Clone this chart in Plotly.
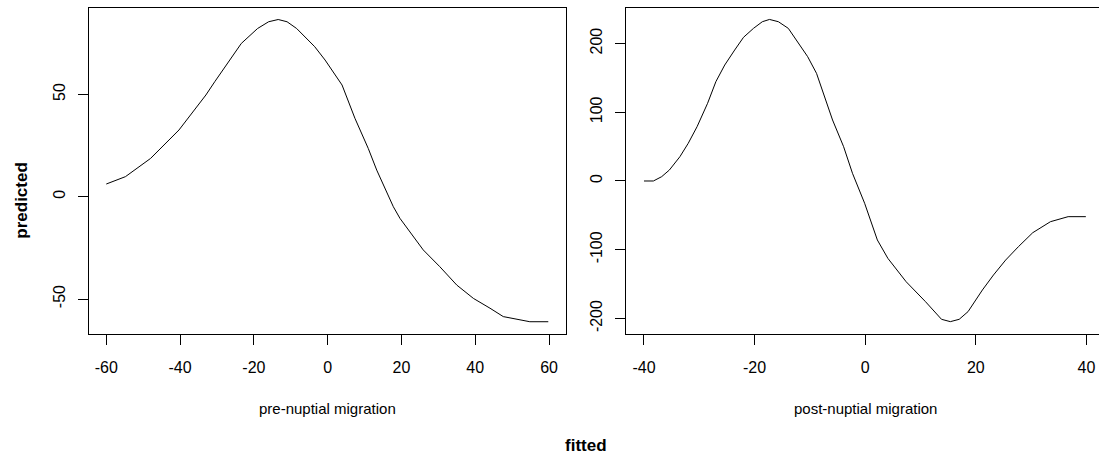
import plotly.graph_objects as go

# ---- data ----
pre_x = [-60, -54.8, -48, -40.3, -33, -30.6, -23.4, -19, -16, -13.4, -11, -8.4,
         -3.5, -0.7, 3.9, 7.4, 11, 13.3, 17.8, 19.6, 25.9, 30.4, 35, 39.5, 44,
         47.6, 54.8, 59.8]
pre_y = [6.2, 9.8, 18.7, 32.6, 49.7, 56.2, 74.9, 82.2, 85.5, 86.6, 85.5, 82.2,
         73.3, 66.8, 54.6, 38.3, 23.6, 13, -4.9, -10.6, -26, -34.2, -43.2, -49.7,
         -54.5, -58.6, -61.1, -61.1]

post_x = [-40, -38.3, -36.8, -35.4, -33.5, -32, -30.4, -28.5, -27, -25.4, -23.6,
          -22, -20.2, -18.6, -17.3, -15.7, -13.9, -12.3, -10.4, -8.8, -7.2, -5.9,
          -3.9, -2.3, -0.1, 2.2, 4.1, 7.4, 10.9, 13.8, 15.4, 17, 18.6, 21.2, 23.2,
          25.4, 27.7, 30.3, 33.5, 36.7, 39.9]
post_y = [0, 0, 6.3, 16, 35.4, 54.8, 79, 113, 144.5, 168.7, 190.5, 209, 222,
          231.7, 235, 231.7, 222, 202.6, 180.8, 156.6, 117.8, 88.7, 49.9, 11.2,
          -32.4, -85.8, -112.5, -146.5, -175.5, -201.2, -204.6, -201.2, -190,
          -158.5, -136.7, -115, -95.6, -75.2, -59.2, -51.9, -51.9]

pre_ticks_x = [-60, -40, -20, 0, 20, 40, 60]
pre_ticks_y = [-50, 0, 50]
post_ticks_x = [-40, -20, 0, 20, 40]
post_ticks_y = [-200, -100, 0, 100, 200]

W, H = 1099, 457
FONT = "Liberation Sans, Arial, Helvetica, sans-serif"


def labels(vals):
    # plain ASCII hyphen for negatives, as in the reference
    return [str(v) for v in vals]


fig = go.Figure()
fig.add_trace(go.Scatter(x=pre_x, y=pre_y, mode="lines",
                         line=dict(color="black", width=1), xaxis="x", yaxis="y",
                         showlegend=False))
fig.add_trace(go.Scatter(x=post_x, y=post_y, mode="lines",
                         line=dict(color="black", width=1), xaxis="x2", yaxis="y2",
                         showlegend=False))

ydom = [1 - 334.3 / H, 1 - 8.3 / H]
common_x = dict(showgrid=False, zeroline=False, showline=True, linecolor="black",
                linewidth=1, ticks="outside", ticklen=10, tickwidth=1,
                tickcolor="black", tickfont=dict(size=16, color="black", family=FONT),
                ticklabelstandoff=8, automargin=False)
common_y = dict(showgrid=False, zeroline=False, showline=True, linecolor="black",
                linewidth=1, ticks="outside", ticklen=10, tickwidth=1,
                tickcolor="black", tickfont=dict(size=16, color="black", family=FONT),
                tickangle=-90, ticklabelstandoff=7, automargin=False)

fig.update_layout(
    width=W, height=H,
    margin=dict(l=0, r=0, t=0, b=0),
    paper_bgcolor="white", plot_bgcolor="white",
    font=dict(family=FONT, color="black"),
    xaxis=dict(common_x, domain=[89.3 / W, 566 / W], range=[-64.6, 64.6],
               tickvals=pre_ticks_x, ticktext=labels(pre_ticks_x), mirror=True, anchor="y"),
    yaxis=dict(common_y, domain=ydom, range=[-67.25, 92.08],
               tickvals=pre_ticks_y, ticktext=labels(pre_ticks_y), mirror=True, anchor="x"),
    xaxis2=dict(common_x, domain=[626.4 / W, 1.0], range=[-43.18, 42.28],
                tickvals=post_ticks_x, ticktext=labels(post_ticks_x), mirror=True, anchor="y2"),
    yaxis2=dict(common_y, domain=ydom, range=[-223.0, 251.2],
                tickvals=post_ticks_y, ticktext=labels(post_ticks_y), mirror=False, anchor="x2"),
)

ann = [
    dict(text="pre-nuptial migration", x=327.6 / W, y=1 - 408 / H, size=15, bold=False, angle=0),
    dict(text="post-nuptial migration", x=865 / W, y=1 - 408 / H, size=15, bold=False, angle=0),
    dict(text="fitted", x=586 / W, y=1 - 445 / H, size=17, bold=True, angle=0),
    dict(text="predicted", x=20.7 / W, y=1 - 200 / H, size=17, bold=True, angle=-90),
]
for a in ann:
    txt = f"<b>{a['text']}</b>" if a["bold"] else a["text"]
    fig.add_annotation(text=txt, x=a["x"], y=a["y"], xref="paper", yref="paper",
                       xanchor="center", yanchor="middle", showarrow=False,
                       textangle=a["angle"],
                       font=dict(size=a["size"], color="black", family=FONT))

fig.write_html("out.html", config={"displayModeBar": False})
